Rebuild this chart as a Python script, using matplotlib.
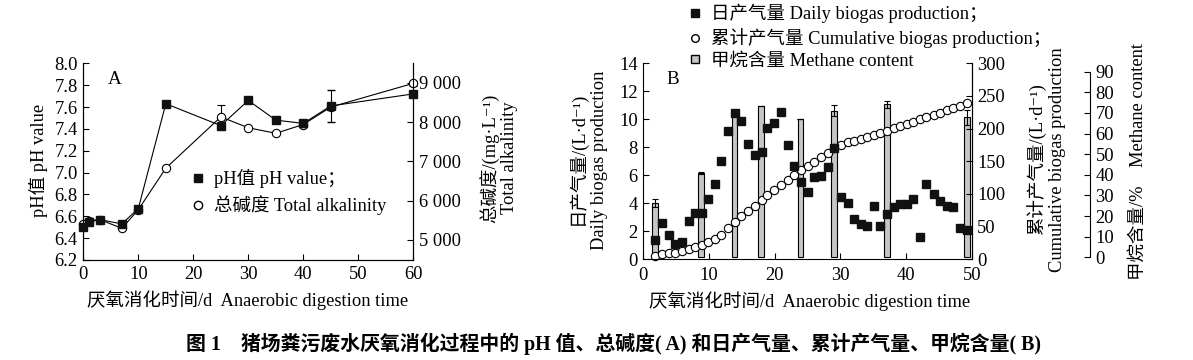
import matplotlib
matplotlib.use("Agg")
import matplotlib.pyplot as plt
from matplotlib.lines import Line2D

plt.rcParams['font.family'] = ['Liberation Serif', 'Noto Sans CJK SC', 'DejaVu Serif']
FS = 13.3
plt.rcParams['font.size'] = FS

# ---------------- Panel A data ----------------
a_days = [0, 1, 3, 7, 10, 15, 25, 30, 35, 40, 45, 60]
ph_vals = [6.50, 6.55, 6.57, 6.53, 6.67, 7.63, 7.43, 7.66, 7.48, 7.45, 7.61, 7.72]
ph_err = [0, 0, 0, 0, 0, 0, 0, 0, 0, 0.03, 0.145, 0]
alk_vals = [5408, 5492, 5520, 5297, 5770, 6828, 8136, 7858, 7718, 7941, 8386, 8990]
alk_err = [0, 0, 0, 0, 0, 0, 306, 0, 0, 0, 0, 60]
alk_ticks = [5000, 6000, 7000, 8000, 9000]
alk_ticklabels = ['5 000', '6 000', '7 000', '8 000', '9 000']

# ---------------- Panel B data ----------------
b_days = [1.8, 2.8, 3.9, 4.9, 5.9, 6.9, 7.9, 8.9, 9.9, 10.9, 11.9, 12.9,
          13.9, 14.9, 15.9, 17.0, 18.0, 18.9, 19.9, 21.0, 22.0, 23.0, 24.0, 25.0,
          26.0, 27.0, 28.1, 29.0, 30.1, 31.1, 32.1, 33.1, 34.1, 35.1, 36.1, 37.1,
          38.1, 39.1, 40.1, 41.1, 42.1, 43.1, 44.2, 45.2, 46.2, 47.2, 48.2, 49.2]
daily = [1.36, 2.62, 1.74, 1.10, 1.24, 2.71, 3.33, 3.33, 4.29, 5.38, 7.05, 9.17,
         10.48, 9.88, 8.24, 7.45, 7.67, 9.36, 9.74, 10.55, 8.19, 6.67, 5.52, 4.83,
         5.90, 5.95, 6.57, 7.95, 4.43, 4.05, 2.88, 2.55, 2.40, 3.83, 2.40, 3.24,
         3.71, 3.95, 3.95, 4.33, 1.57, 5.40, 4.64, 4.19, 3.83, 3.71, 2.21, 2.10]
cumulative = [5.0, 8.1, 9.6, 10.1, 12.2, 15.3, 18.8, 21.4, 26.0, 31.0, 37.2, 47.4,
              57.6, 66.8, 74.4, 82.0, 90.8, 98.4, 106.0, 113.7, 121.4, 129.0, 136.7, 142.8,
              149.4, 156.0, 163.2, 169.9, 175.0, 179.0, 181.5, 184.0, 186.7, 190.2, 193.8, 196.8,
              200.5, 204.0, 207.0, 210.6, 214.3, 217.3, 220.8, 224.4, 228.5, 232.0, 235.1, 238.8]
ch4_days = [1.8, 8.8, 13.9, 17.9, 23.9, 29.0, 37.1, 49.3]
ch4_vals = [26.5, 40.7, 70.3, 73.6, 67.1, 71.0, 74.2, 67.9]
ch4_err = [1.9, 0.5, 0, 0, 0, 2.7, 1.6, 3.6]

W, H = 1193, 360
fig = plt.figure(figsize=(W / 100, H / 100), dpi=100)
fig.patch.set_facecolor('white')


def fx(px):
    return px / W


def fy(py):
    return 1 - py / H


lw = 0.8
tick_kw = dict(direction='in', length=4, width=0.8, pad=4, labelsize=FS)

# ================= Panel A =================
axA = fig.add_axes([fx(83.3), fy(260), fx(413.3) - fx(83.3), fy(63.3) - fy(260)])
axAr = axA.twinx()
axA.set_zorder(3)
axA.patch.set_visible(False)

axA.errorbar(a_days, ph_vals, yerr=ph_err, color='black', lw=lw, marker='s',
             markersize=6, mfc='#111111', mec='#111111', capsize=3, elinewidth=0.8,
             clip_on=False, zorder=4)
axAr.errorbar(a_days, alk_vals, yerr=alk_err, color='black', lw=lw, marker='o',
              markersize=6, mfc='white', mec='black', mew=0.8, capsize=3,
              elinewidth=0.8, clip_on=False, zorder=3)

axA.set_xlim(0, 60)
axA.set_ylim(6.2, 8.0)
axA.set_xticks([0, 10, 20, 30, 40, 50, 60])
axA.set_yticks([6.2, 6.4, 6.6, 6.8, 7.0, 7.2, 7.4, 7.6, 7.8, 8.0])
axA.set_yticklabels(['6.2', '6.4', '6.6', '6.8', '7.0', '7.2', '7.4', '7.6', '7.8', '8.0'])
axAr.set_ylim(4490, 9500)
axAr.set_yticks(alk_ticks)
axAr.set_yticklabels(alk_ticklabels)
for a in (axA, axAr):
    a.spines['top'].set_visible(False)
    for s in a.spines.values():
        s.set_linewidth(0.8)
axA.tick_params(**tick_kw)
axAr.tick_params(**tick_kw)
axA.text(0.075, 0.96, 'A', transform=axA.transAxes, fontsize=FS + 0.5, va='top')

legA = axA.legend(
    [Line2D([], [], marker='s', color='#111111', ls='none', markersize=6),
     Line2D([], [], marker='o', mfc='white', mec='black', ls='none', markersize=6)],
    ['pH值 pH value；', '总碱度 Total alkalinity'],
    loc='upper left', bbox_to_anchor=(fx(191), fy(169)), bbox_transform=fig.transFigure,
    frameon=False, fontsize=FS, handlelength=0.8, handletextpad=0.45,
    labelspacing=0.38, borderpad=0, borderaxespad=0)

fig.text(fx(38), fy(160), 'pH值 pH value', rotation=90, ha='center', va='center', fontsize=FS)
fig.text(fx(489), fy(158), '总碱度/(mg·L⁻¹)', rotation=90, ha='center', va='center', fontsize=FS)
fig.text(fx(510), fy(158), 'Total alkalinity', rotation=90, ha='center', va='center', fontsize=FS)
fig.text(fx(248), fy(300), '厌氧消化时间/d  Anaerobic digestion time', ha='center', va='center',
         fontsize=FS)

# ================= Panel B =================
axB = fig.add_axes([fx(643.3), fy(259.3), fx(971.8) - fx(643.3), fy(63.3) - fy(259.3)])
axC = axB.twinx()   # cumulative
axM = axB.twinx()   # methane
axM.set_zorder(1)
axC.set_zorder(2)
axB.set_zorder(3)
axB.patch.set_visible(False)
axC.patch.set_visible(False)

axM.bar(ch4_days, ch4_vals, width=0.85, color='#c6c6c6', edgecolor='black', linewidth=0.8,
        yerr=ch4_err, capsize=2.5, error_kw=dict(elinewidth=0.8, capthick=0.8), zorder=1)
axC.plot(b_days, cumulative, ls='none', marker='o', markersize=6, mfc='white', mec='black',
         mew=0.8, clip_on=False)
axB.plot(b_days, daily, ls='none', marker='s', markersize=5.5, color='#111111', clip_on=False)

axB.set_xlim(0, 50)
axB.set_ylim(0, 14)
axB.set_xticks([0, 10, 20, 30, 40, 50])
axB.set_yticks([0, 2, 4, 6, 8, 10, 12, 14])
axC.set_ylim(0, 300)
axC.set_yticks([0, 50, 100, 150, 200, 250, 300])
axM.set_ylim(-0.97, 94.07)
axM.set_yticks([0, 10, 20, 30, 40, 50, 60, 70, 80, 90])
axM.spines['right'].set_position(('axes', 1.36))
axM.spines['right'].set_bounds(0, 90)
for a in (axB, axC, axM):
    a.spines['top'].set_visible(False)
    for s in a.spines.values():
        s.set_linewidth(0.8)
    a.tick_params(**tick_kw)
axB.tick_params(axis='x', pad=5.5)
for s in ('left', 'bottom'):
    axM.spines[s].set_visible(False)
    axC.spines[s].set_visible(False)
axB.text(0.07, 0.96, 'B', transform=axB.transAxes, fontsize=FS + 0.5, va='top')

legB = axB.legend(
    [Line2D([], [], marker='s', color='#111111', ls='none', markersize=5.5),
     Line2D([], [], marker='o', mfc='white', mec='black', ls='none', markersize=5.5),
     Line2D([], [], marker='s', mfc='#c6c6c6', mec='black', ls='none', markersize=5.5)],
    ['日产气量 Daily biogas production；', '累计产气量 Cumulative biogas production；',
     '甲烷含量 Methane content'],
    loc='upper left', bbox_to_anchor=(fx(688), fy(4)), bbox_transform=fig.transFigure,
    frameon=False, fontsize=FS, handlelength=0.8, handletextpad=0.45,
    labelspacing=0.26, borderpad=0, borderaxespad=0)

fig.text(fx(577), fy(158), '日产气量/(L·d⁻¹)', rotation=90, ha='center', va='center', fontsize=FS)
fig.text(fx(600), fy(160), 'Daily biogas production', rotation=90, ha='center', va='center',
         fontsize=FS)
fig.text(fx(1037), fy(159), '累计产气量/(L·d⁻¹)', rotation=90, ha='center', va='center',
         fontsize=FS)
fig.text(fx(1058), fy(160), 'Cumulative biogas production', rotation=90, ha='center',
         va='center', fontsize=FS)
fig.text(fx(1138), fy(161), '甲烷含量/%    Methane content', rotation=90, ha='center',
         va='center', fontsize=FS)
fig.text(fx(810), fy(301), '厌氧消化时间/d  Anaerobic digestion time', ha='center', va='center',
         fontsize=FS)

fig.text(fx(613), fy(344),
         '图 1    猪场粪污废水厌氧消化过程中的 pH 值、总碱度( A) 和日产气量、累计产气量、甲烷含量( B)',
         ha='center', va='center', fontsize=14.3, fontweight='bold')

fig.savefig('out.png', dpi=100, facecolor='white')
